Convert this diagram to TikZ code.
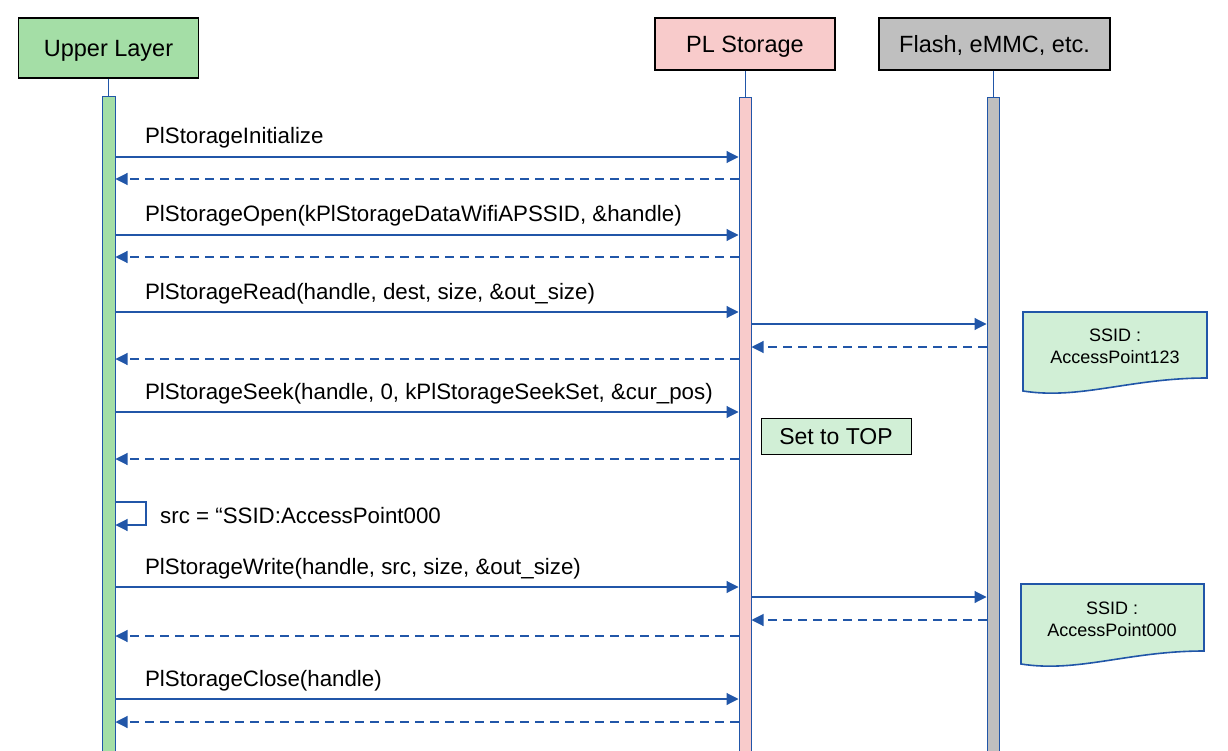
\documentclass[tikz,border=0pt]{standalone}
\usepackage{fontspec}
\setmainfont{Liberation Sans}
\usetikzlibrary{calc,shapes,positioning}
\usetikzlibrary{arrows.meta}
\definecolor{seqblue}{HTML}{2156A8}
\definecolor{upgreen}{HTML}{A4DEA6}
\definecolor{plpink}{HTML}{F8CBCB}
\definecolor{flgray}{HTML}{BFBFBF}
\definecolor{notegreen}{HTML}{D1EFD6}

\begin{document}
\begin{tikzpicture}[x=1pt,y=-1pt]
  \tikzstyle{hnode} = [draw=black, line width=1.1pt, rectangle, inner sep=0pt, text depth=0pt, font=\fontsize{23.5}{28}\selectfont]
  \tikzstyle{bar} = [draw=seqblue, line width=1pt, rectangle, inner sep=0pt, anchor=north, minimum height=700]
  \tikzstyle{life} = [draw=seqblue, line width=1pt]
  \tikzstyle{msg} = [draw=seqblue, line width=1.1pt, -{Triangle[length=12pt,width=12pt]}]
  \tikzstyle{ret} = [msg, dash pattern=on 9pt off 6pt]
  \tikzstyle{lbl} = [anchor=base west, inner sep=0pt, xshift=29pt, yshift=13pt, font=\fontsize{22.3}{26}\selectfont, text=black]
  \tikzstyle{note} = [draw=seqblue, line width=1.6pt, fill=notegreen]
  \tikzstyle{ntext} = [align=center, inner sep=0pt, font=\fontsize{18}{22}\selectfont]

  \path[clip] (0,0) rectangle (1228,751);

  % heads
  \node[hnode, fill=upgreen, minimum width=180, minimum height=60] (up) at (108.5,48) {Upper Layer};
  \node[hnode, fill=plpink, minimum width=180, minimum height=52] (pl) at (745,44) {PL Storage};
  \node[hnode, fill=flgray, minimum width=231, minimum height=52] (fl) at (994.5,44) {Flash, eMMC, etc.};

  % lifelines
  \node[bar, fill=upgreen, minimum width=13] (ubar) at (108.5,96) {};
  \node[bar, fill=plpink, minimum width=12] (pbar) at (745,97) {};
  \node[bar, fill=flgray, minimum width=12] (fbar) at (993,97) {};
  \draw[life] (up.south) -- (ubar.north);
  \draw[life] (pl.south) -- (pbar.north);
  \draw[life] (fbar.north |- fl.south) -- (fbar.north);

  % init / open
  \draw[msg] (ubar.east |- 0,157) -- node[lbl, pos=0] {PlStorageInitialize} (pbar.west |- 0,157);
  \draw[ret] (pbar.west |- 0,179) -- (ubar.east |- 0,179);
  \draw[msg] (ubar.east |- 0,235) -- node[lbl, pos=0] {PlStorageOpen(kPlStorageDataWifiAPSSID, \&handle)} (pbar.west |- 0,235);
  \draw[ret] (pbar.west |- 0,257) -- (ubar.east |- 0,257);

  % read
  \draw[msg] (ubar.east |- 0,312) -- node[lbl, pos=0] {PlStorageRead(handle, dest, size, \&out\_size)} (pbar.west |- 0,312);
  \draw[msg] (pbar.east |- 0,324) -- (fbar.west |- 0,324);
  \draw[ret] (fbar.west |- 0,347) -- (pbar.east |- 0,347);
  \draw[ret] (pbar.west |- 0,359) -- (ubar.east |- 0,359);
  \draw[note] (1023,312) -- (1207,312) -- (1207,378) .. controls (1130,378) and (1080,400) .. (1023,391) -- cycle;
  \node[ntext] (n1) at (1115,346) {SSID :\\AccessPoint123};

  % seek
  \draw[msg] (ubar.east |- 0,412) -- node[lbl, pos=0] {PlStorageSeek(handle, 0, kPlStorageSeekSet, \&cur\_pos)} (pbar.west |- 0,412);
  \node[draw=black, line width=1pt, fill=notegreen, minimum width=150, minimum height=36, inner sep=0pt, text depth=0pt, font=\fontsize{23}{28}\selectfont] (top) at (836,436) {Set to TOP};
  \draw[ret] (pbar.west |- 0,459) -- (ubar.east |- 0,459);

  % self
  \coordinate (s1) at (146,502);
  \coordinate (s2) at (146,525);
  \draw[msg] (ubar.east |- s1) -- (s1) -- (s2) -- (ubar.east |- s2);
  \node[anchor=base west, inner sep=0pt, font=\fontsize{22.3}{26}\selectfont] (src) at (160,523) {src = “SSID:AccessPoint000};

  % write
  \draw[msg] (ubar.east |- 0,587) -- node[lbl, pos=0] {PlStorageWrite(handle, src, size, \&out\_size)} (pbar.west |- 0,587);
  \draw[msg] (pbar.east |- 0,597) -- (fbar.west |- 0,597);
  \draw[ret] (fbar.west |- 0,620) -- (pbar.east |- 0,620);
  \draw[ret] (pbar.west |- 0,636) -- (ubar.east |- 0,636);
  \draw[note] (1021,584) -- (1204,584) -- (1204,651) .. controls (1128,651) and (1078,673) .. (1021,664) -- cycle;
  \node[ntext] (n2) at (1112,619.5) {SSID :\\AccessPoint000};

  % close
  \draw[msg] (ubar.east |- 0,699) -- node[lbl, pos=0] {PlStorageClose(handle)} (pbar.west |- 0,699);
  \draw[ret] (pbar.west |- 0,722) -- (ubar.east |- 0,722);

\end{tikzpicture}
\end{document}
